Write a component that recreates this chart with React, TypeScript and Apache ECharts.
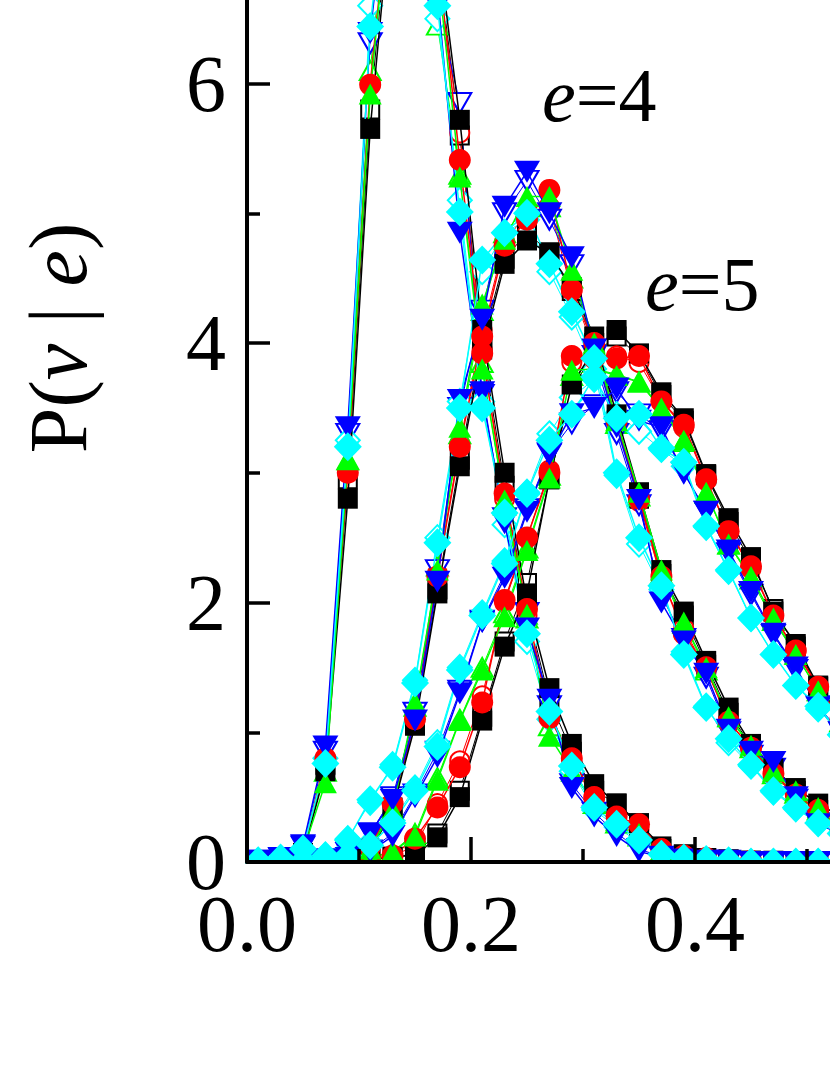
import React, { useEffect, useRef } from "react";
import * as echarts from "echarts";

// bin centres v
const X = [0.01, 0.03, 0.05, 0.07, 0.09, 0.11, 0.13, 0.15, 0.17, 0.19, 0.21, 0.23, 0.25, 0.27, 0.29, 0.31, 0.33, 0.35, 0.37, 0.39, 0.41, 0.43, 0.45, 0.47, 0.49, 0.51, 0.53];

// ---- e = 3 ----
const E3_BLACK = [0, 0.01, 0.06, 0.70, 2.80, 5.65, 7.50, 8.10, 7.10, 5.72, 4.10, 3.00, 2.00, 1.34, 0.91, 0.60, 0.45, 0.30, 0.12, 0.06, 0.03, 0.02, 0.01, 0.01, 0, 0, 0];
const E3_RED = [0, 0.01, 0.08, 0.80, 3.00, 5.99, 7.70, 8.20, 7.00, 5.41, 3.92, 2.84, 1.95, 1.11, 0.80, 0.50, 0.35, 0.29, 0.10, 0.05, 0.03, 0.01, 0.01, 0, 0, 0, 0];
const E3_GREEN = [0, 0.02, 0.08, 0.61, 3.10, 5.92, 7.70, 8.20, 6.90, 5.28, 3.80, 2.79, 1.91, 0.97, 0.70, 0.45, 0.32, 0.22, 0.09, 0.05, 0.03, 0.02, 0.01, 0.01, 0, 0, 0];
const E3_BLUE = [0.01, 0.03, 0.13, 0.89, 3.35, 6.39, 7.90, 8.00, 6.70, 4.85, 3.62, 2.61, 1.80, 1.25, 0.57, 0.35, 0.20, 0.08, 0.04, 0.02, 0.01, 0.01, 0, 0, 0, 0, 0];
const E3_CYAN = [0.01, 0.03, 0.10, 0.76, 3.20, 6.44, 8.00, 8.00, 6.60, 5.01, 3.50, 2.69, 1.76, 1.16, 0.74, 0.42, 0.29, 0.17, 0.06, 0.03, 0.02, 0.01, 0, 0, 0, 0, 0];
const E3_BLACK_O = [0, 0.01, 0.07, 0.75, 2.95, 5.80, 7.60, 8.10, 7.00, 5.60, 4.00, 2.90, 1.95, 1.25, 0.85, 0.55, 0.45, 0.28, 0.10, 0.05, 0.03, 0.02, 0.01, 0, 0, 0, 0];
const E3_RED_O = [0, 0.01, 0.08, 0.78, 3.21, 6.00, 7.70, 8.10, 6.90, 5.62, 3.95, 2.80, 1.90, 1.15, 0.78, 0.48, 0.36, 0.25, 0.09, 0.05, 0.02, 0.01, 0.01, 0, 0, 0, 0];
const E3_GREEN_O = [0, 0.02, 0.09, 0.70, 3.10, 6.10, 7.80, 8.10, 6.45, 5.30, 3.85, 2.75, 1.88, 1.05, 0.72, 0.45, 0.30, 0.20, 0.08, 0.04, 0.02, 0.01, 0, 0, 0, 0, 0];
const E3_BLUE_O = [0.01, 0.03, 0.12, 0.85, 3.30, 6.31, 7.90, 8.00, 6.60, 5.85, 3.60, 2.65, 1.92, 1.20, 0.60, 0.38, 0.22, 0.10, 0.04, 0.02, 0.01, 0, 0, 0, 0, 0, 0];
const E3_CYAN_O = [0.01, 0.03, 0.10, 0.80, 3.25, 6.60, 8.00, 7.90, 6.50, 5.10, 3.55, 2.60, 1.70, 1.10, 0.70, 0.40, 0.27, 0.15, 0.06, 0.03, 0.01, 0, 0, 0, 0, 0, 0];

// ---- e = 4 ----
const E4_BLACK = [0, 0, 0, 0.01, 0.03, 0.08, 0.40, 1.05, 2.07, 3.05, 3.95, 4.61, 4.79, 4.69, 4.43, 4.05, 3.45, 2.85, 2.25, 1.93, 1.55, 1.19, 0.91, 0.72, 0.57, 0.45, 0.35];
const E4_RED = [0, 0, 0, 0.01, 0.04, 0.12, 0.45, 1.10, 2.20, 3.20, 4.05, 4.75, 4.95, 5.18, 4.41, 4.00, 3.40, 2.80, 2.20, 1.76, 1.50, 1.08, 0.88, 0.68, 0.52, 0.40, 0.30];
const E4_GREEN = [0, 0, 0, 0.01, 0.04, 0.10, 0.40, 1.23, 2.25, 3.35, 4.30, 4.80, 5.13, 5.13, 4.56, 4.00, 3.40, 2.85, 2.25, 1.85, 1.50, 1.12, 0.90, 0.70, 0.55, 0.42, 0.32];
const E4_BLUE = [0, 0, 0.01, 0.02, 0.08, 0.22, 0.48, 1.09, 2.16, 3.56, 4.18, 5.05, 5.32, 5.00, 4.66, 3.95, 3.35, 2.79, 2.00, 1.70, 1.45, 1.02, 0.85, 0.77, 0.50, 0.29, 0.22];
const E4_CYAN = [0, 0, 0.01, 0.05, 0.17, 0.48, 0.73, 1.38, 2.46, 3.50, 4.64, 4.85, 5.00, 4.61, 4.24, 3.88, 3.00, 2.50, 2.13, 1.60, 1.19, 0.95, 0.75, 0.55, 0.42, 0.30, 0.22];
const E4_BLACK_O = [0, 0, 0, 0.01, 0.03, 0.10, 0.42, 1.08, 2.10, 3.10, 4.00, 4.65, 4.85, 4.70, 4.40, 4.00, 3.40, 2.80, 2.22, 1.90, 1.52, 1.15, 0.90, 0.70, 0.55, 0.40, 0.31];
const E4_RED_O = [0, 0, 0, 0.01, 0.04, 0.12, 0.45, 1.12, 2.22, 3.22, 4.10, 4.78, 5.00, 5.05, 4.40, 3.95, 3.38, 2.78, 2.18, 1.80, 1.48, 1.10, 0.86, 0.66, 0.52, 0.38, 0.29];
const E4_GREEN_O = [0, 0, 0, 0.01, 0.04, 0.11, 0.42, 1.20, 2.28, 3.30, 4.25, 4.85, 5.05, 5.05, 4.50, 3.98, 3.38, 2.82, 2.22, 1.84, 1.48, 1.12, 0.88, 0.68, 0.53, 0.40, 0.30];
const E4_BLUE_O = [0, 0, 0.01, 0.02, 0.07, 0.22, 0.50, 1.15, 2.25, 3.50, 4.25, 5.00, 5.25, 4.95, 4.60, 3.90, 3.30, 2.75, 2.05, 1.72, 1.42, 1.00, 0.82, 0.72, 0.48, 0.30, 0.22];
const E4_CYAN_O = [0, 0, 0.01, 0.05, 0.18, 0.46, 0.75, 1.40, 2.50, 3.55, 4.55, 4.85, 4.95, 4.55, 4.20, 3.80, 2.98, 2.45, 2.10, 1.62, 1.20, 0.92, 0.74, 0.54, 0.41, 0.30, 0.22];

// ---- e = 5 ----
const E5_BLACK = [0, 0, 0, 0, 0.01, 0.02, 0.04, 0.05, 0.19, 0.50, 1.09, 1.66, 2.07, 2.95, 3.68, 3.95, 4.10, 3.92, 3.62, 3.42, 2.99, 2.65, 2.35, 1.93, 1.68, 1.36, 1.12];
const E5_RED = [0, 0, 0, 0, 0.01, 0.02, 0.05, 0.18, 0.42, 0.73, 1.23, 2.02, 2.50, 3.00, 3.90, 3.88, 3.88, 3.90, 3.55, 3.37, 2.95, 2.55, 2.28, 1.90, 1.63, 1.35, 1.10];
const E5_GREEN = [0, 0, 0, 0, 0.01, 0.03, 0.08, 0.20, 0.63, 1.09, 1.48, 1.89, 2.40, 2.96, 3.79, 3.80, 3.75, 3.70, 3.50, 3.25, 2.85, 2.45, 2.20, 1.88, 1.60, 1.32, 1.08];
const E5_BLUE = [0, 0, 0, 0.01, 0.03, 0.08, 0.20, 0.50, 0.81, 1.30, 1.85, 2.19, 2.70, 3.14, 3.45, 3.50, 3.65, 3.40, 3.35, 3.00, 2.70, 2.40, 2.08, 1.76, 1.50, 1.19, 1.00];
const E5_CYAN = [0, 0, 0, 0.02, 0.05, 0.13, 0.30, 0.55, 0.89, 1.48, 1.90, 2.30, 2.84, 3.25, 3.45, 3.74, 3.42, 3.45, 3.19, 3.08, 2.59, 2.25, 1.88, 1.60, 1.36, 1.20, 0.98];
const E5_BLACK_O = [0, 0, 0, 0, 0.01, 0.02, 0.04, 0.06, 0.22, 0.55, 1.12, 1.70, 2.15, 2.95, 3.65, 3.92, 4.05, 3.90, 3.60, 3.40, 2.98, 2.62, 2.32, 1.95, 1.66, 1.35, 1.10];
const E5_RED_O = [0, 0, 0, 0, 0.01, 0.02, 0.05, 0.12, 0.45, 0.78, 1.28, 2.00, 2.50, 3.02, 3.85, 3.88, 3.90, 3.85, 3.55, 3.35, 2.94, 2.55, 2.26, 1.90, 1.62, 1.34, 1.10];
const E5_GREEN_O = [0, 0, 0, 0, 0.01, 0.03, 0.08, 0.22, 0.65, 1.10, 1.50, 1.92, 2.42, 2.98, 3.75, 3.80, 3.76, 3.70, 3.48, 3.24, 2.84, 2.45, 2.18, 1.86, 1.60, 1.32, 1.08];
const E5_BLUE_O = [0, 0, 0, 0.01, 0.03, 0.09, 0.22, 0.52, 0.85, 1.32, 1.86, 2.22, 2.72, 3.15, 3.38, 3.52, 3.62, 3.45, 3.32, 3.00, 2.70, 2.38, 2.06, 1.75, 1.48, 1.20, 1.00];
const E5_CYAN_O = [0, 0, 0, 0.02, 0.06, 0.15, 0.32, 0.57, 0.92, 1.50, 1.92, 2.32, 2.85, 3.30, 3.58, 3.72, 3.45, 3.32, 3.18, 3.05, 2.58, 2.24, 1.88, 1.60, 1.36, 1.18, 0.98];

// visible tick labels (the axes continue past the cropped edges, unlabeled there)
const X_TICKS = ["0.0", "0.2", "0.4"];
const Y_TICKS = ["0", "2", "4", "6"];
const LABELS = [
  { e: "e", rest: "=4" },
  { e: "e", rest: "=5" },
];

const FONT = "'Liberation Serif', 'Times New Roman', serif";

type Marker = { color: string; symbol: string; size: number | number[]; rotate: number; data: number[][] };

const FILLED: Marker[] = [
  { color: "#000000", symbol: "rect", size: 20, rotate: 0, data: [E3_BLACK, E4_BLACK, E5_BLACK] },
  { color: "#ff0000", symbol: "circle", size: 22, rotate: 0, data: [E3_RED, E4_RED, E5_RED] },
  { color: "#00ff00", symbol: "triangle", size: [23, 21], rotate: 0, data: [E3_GREEN, E4_GREEN, E5_GREEN] },
  { color: "#0000ff", symbol: "triangle", size: [26, 22], rotate: 180, data: [E3_BLUE, E4_BLUE, E5_BLUE] },
  { color: "#00ffff", symbol: "diamond", size: [28, 29], rotate: 0, data: [E3_CYAN, E4_CYAN, E5_CYAN] },
];
const OPEN: Marker[] = [
  { color: "#000000", symbol: "emptyRect", size: 18, rotate: 0, data: [E3_BLACK_O, E4_BLACK_O, E5_BLACK_O] },
  { color: "#ff0000", symbol: "emptyCircle", size: 19, rotate: 0, data: [E3_RED_O, E4_RED_O, E5_RED_O] },
  { color: "#00ff00", symbol: "emptyTriangle", size: [21, 19], rotate: 0, data: [E3_GREEN_O, E4_GREEN_O, E5_GREEN_O] },
  { color: "#0000ff", symbol: "emptyTriangle", size: [23, 20], rotate: 180, data: [E3_BLUE_O, E4_BLUE_O, E5_BLUE_O] },
  { color: "#00ffff", symbol: "emptyDiamond", size: [24, 25], rotate: 0, data: [E3_CYAN_O, E4_CYAN_O, E5_CYAN_O] },
];

function buildSeries() {
  const out: any[] = [];
  const add = (m: Marker, open: boolean) => {
    m.data.forEach((arr) => {
      out.push({
        type: "line",
        data: X.map((x, i) => [x, arr[i]]),
        symbol: m.symbol,
        symbolSize: m.size,
        symbolRotate: m.rotate,
        showSymbol: true,
        showAllSymbol: true,
        clip: true,
        lineStyle: { color: m.color, width: open ? 1 : 1.5 },
        itemStyle: open ? { color: m.color, borderColor: m.color, borderWidth: 1.5 } : { color: m.color, borderWidth: 0 },
        emphasis: { disabled: true },
        z: open ? 2 : 3,
      });
    });
  };
  OPEN.forEach((m) => add(m, true));
  FILLED.forEach((m) => add(m, false));
  return out;
}

export default function App() {
  const ref = useRef<HTMLDivElement>(null);
  useEffect(() => {
    if (!ref.current) return;
    const chart = echarts.init(ref.current, null, { renderer: "svg" });
    const axisLine = { show: true, onZero: false, lineStyle: { color: "#000", width: 4 } };
    chart.setOption({
      animation: false,
      backgroundColor: "#ffffff",
      grid: { left: 247, top: -176, width: 672, height: 1038, containLabel: false, outerBoundsMode: "none" },
      xAxis: {
        type: "value",
        min: 0,
        max: 0.6,
        interval: 0.2,
        z: 10,
        axisLine,
        axisTick: { show: true, inside: true, length: 25, lineStyle: { color: "#000", width: 3.5 } },
        minorTick: { show: true, splitNumber: 2, length: 13, lineStyle: { color: "#000", width: 3.5 } },
        splitLine: { show: false },
        axisLabel: {
          margin: 34,
          fontFamily: FONT,
          fontSize: 80,
          lineHeight: 56,
          color: "#000",
          formatter: (v: number) => X_TICKS[Math.round(v / 0.2)] ?? "",
        },
      },
      yAxis: {
        type: "value",
        min: 0,
        max: 8,
        interval: 2,
        z: 10,
        axisLine,
        axisTick: { show: true, inside: true, length: 23, lineStyle: { color: "#000", width: 3.5 } },
        minorTick: { show: true, splitNumber: 2, length: 13, lineStyle: { color: "#000", width: 3.5 } },
        splitLine: { show: false },
        axisLabel: {
          margin: 21,
          fontFamily: FONT,
          fontSize: 80,
          lineHeight: 56,
          color: "#000",
          formatter: (v: number) => Y_TICKS[Math.round(v / 2)] ?? "",
        },
      },
      graphic: {
        elements: [
          { type: "rect", z: 5, silent: true, shape: { x: 0, y: 864, width: 830, height: 220 }, style: { fill: "#ffffff" } },
          { type: "rect", z: 5, silent: true, shape: { x: 0, y: 0, width: 245, height: 1075 }, style: { fill: "#ffffff" } },
          {
            type: "text",
            z: 20,
            x: 58,
            y: 338,
            rotation: Math.PI / 2,
            style: {
              text: "P({i|v} | {i|e})",
              fontFamily: FONT,
              fontSize: 82,
              fill: "#000",
              align: "center",
              verticalAlign: "middle",
              rich: { i: { fontStyle: "italic", fontFamily: FONT, fontSize: 82, fill: "#000" } },
            },
          },
          {
            type: "text",
            z: 20,
            x: 542,
            y: 95,
            style: {
              text: `{i|${LABELS[0].e}}${LABELS[0].rest}`,
              fontFamily: FONT,
              fontSize: 76,
              fill: "#000",
              align: "left",
              verticalAlign: "middle",
              rich: { i: { fontStyle: "italic", fontFamily: FONT, fontSize: 76, fill: "#000" } },
            },
          },
          {
            type: "text",
            z: 20,
            x: 645,
            y: 284,
            style: {
              text: `{i|${LABELS[1].e}}${LABELS[1].rest}`,
              fontFamily: FONT,
              fontSize: 76,
              fill: "#000",
              align: "left",
              verticalAlign: "middle",
              rich: { i: { fontStyle: "italic", fontFamily: FONT, fontSize: 76, fill: "#000" } },
            },
          },
        ],
      },
      series: buildSeries(),
    });
    return () => chart.dispose();
  }, []);
  return (
    <div
      ref={ref}
      style={{ position: "absolute", left: 0, top: 0, width: 830, height: 1075, background: "#fff" }}
    />
  );
}
